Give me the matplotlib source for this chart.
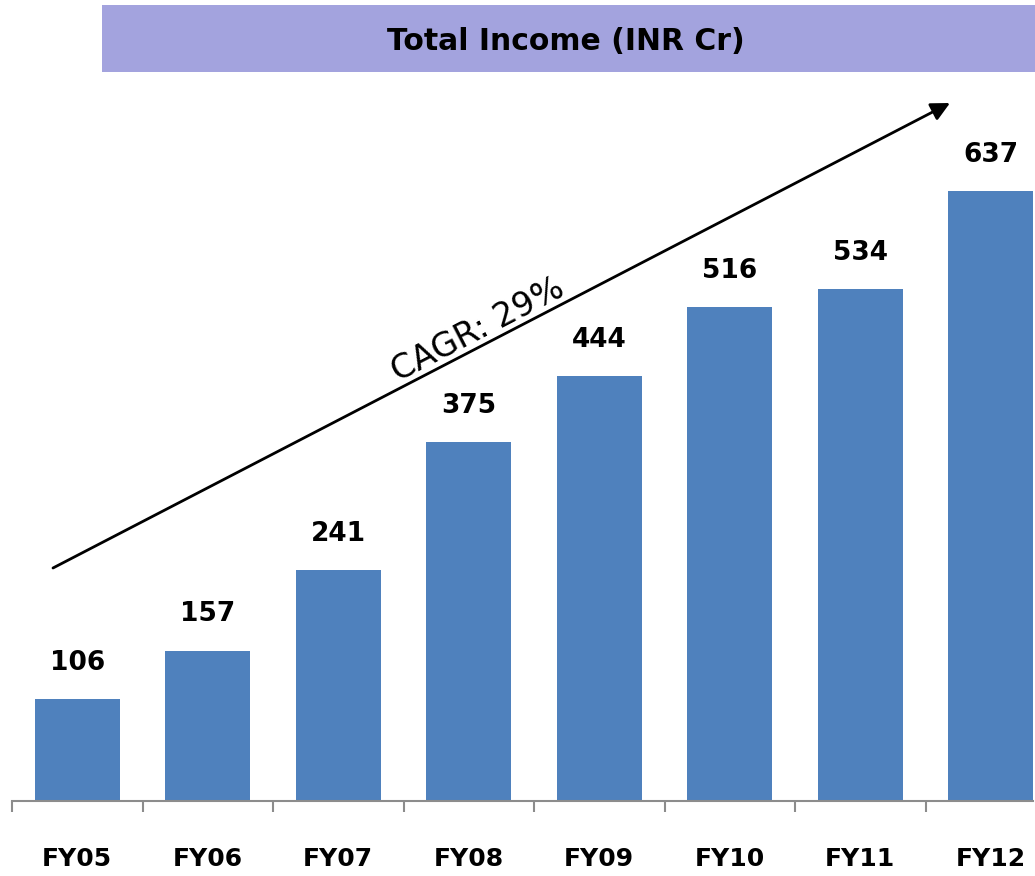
import matplotlib
matplotlib.use("Agg")
import matplotlib.pyplot as plt
from matplotlib.patches import Rectangle

categories = ["FY05", "FY06", "FY07", "FY08", "FY09", "FY10", "FY11", "FY12"]
values = [106, 157, 241, 375, 444, 516, 534, 637]
title = "Total Income (INR Cr)"
cagr_label = "CAGR: 29%"

W, H = 1035, 876
fig = plt.figure(figsize=(W / 100, H / 100), dpi=100)

# axes placement in pixels
ax_left, ax_right = 12, 1033
ax_bottom_px = 801  # from top
ax_top_px = 0
ax = fig.add_axes([ax_left / W, (H - ax_bottom_px) / H, (ax_right - ax_left) / W,
                   (ax_bottom_px - ax_top_px) / H])
slot = 130.5
ppu = 0.958

x = list(range(len(categories)))
ax.bar(x, values, width=85 / slot, color="#4F81BD", zorder=2)

for xi, v in zip(x, values):
    ax.annotate(str(v), (xi, v), xytext=(0, 26), textcoords="offset points",
                ha="center", va="center", fontsize=19, fontweight="bold",
                family="DejaVu Sans", color="black")

for s in ["top", "right", "left"]:
    ax.spines[s].set_visible(False)
ax.spines["bottom"].set_color("#8C8C8C")
ax.spines["bottom"].set_linewidth(1.5)
ax.set_yticks([])

ax.set_xticks(x)
ax.set_xticklabels(categories, fontsize=18, fontweight="bold")
ax.tick_params(axis="x", which="major", length=0, pad=33)
ax.set_xticks([i - 0.5 for i in range(len(categories) + 1)], minor=True)
ax.tick_params(axis="x", which="minor", length=8, width=1.5, color="#8C8C8C")

ax.set_xlim(-0.5, -0.5 + (ax_right - ax_left) / slot)
ax.set_ylim(0, (ax_bottom_px - ax_top_px) / ppu)

# CAGR arrow
x0 = (53 - ax_left) / slot - 0.5
x1 = (950 - ax_left) / slot - 0.5
y0 = (ax_bottom_px - 568) / ppu
y1 = (ax_bottom_px - 103) / ppu
ax.annotate("", xy=(x1, y1), xytext=(x0, y0),
            arrowprops=dict(arrowstyle="-|>", color="black", lw=2,
                            mutation_scale=28, shrinkA=0, shrinkB=0),
            annotation_clip=False, zorder=3)
tx = (478 - ax_left) / slot - 0.5
ty = (ax_bottom_px - 330) / ppu
ax.text(tx, ty, cagr_label, rotation=27.4, rotation_mode="anchor",
        ha="center", va="center", fontsize=24, color="black")

# title band
fig.patches.append(Rectangle((102 / W, 1 - 72 / H), (1035 - 102) / W, 67 / H,
                             transform=fig.transFigure, facecolor="#A3A3DE",
                             edgecolor="none", zorder=0))
fig.text(566 / W, 1 - 42 / H, title, ha="center", va="center", fontsize=21.5,
         fontweight="bold", color="black")

fig.savefig("out.png", dpi=100)
